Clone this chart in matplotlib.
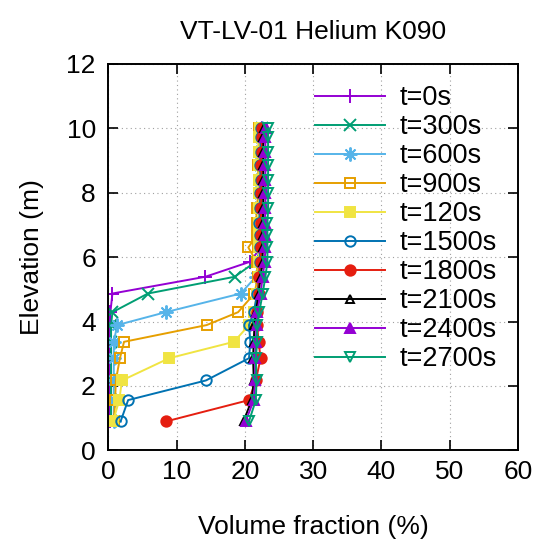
import matplotlib
matplotlib.use("Agg")
import matplotlib.pyplot as plt

# ─────────────────────────────
# Data
# ─────────────────────────────
elevation = [0.90, 1.56, 2.17, 2.86, 3.37, 3.89, 4.29, 4.87, 5.39, 5.86,
             6.30, 6.69, 7.05, 7.52, 7.98, 8.39, 8.86, 9.27, 9.72, 10.00]

t0    = [0.2, 0.2, 0.2, 0.2, 0.2, 0.2, 0.3, 0.6, 14.2, 20.8,
         22.3, 22.3, 22.2, 22.3, 22.3, 22.4, 22.3, 22.4, 22.4, 22.5]
t300  = [0.4, 0.4, 0.4, 0.4, 0.4, 0.4, 0.6, 5.8, 18.5, 21.6,
         22.4, 22.4, 22.3, 22.4, 22.4, 22.5, 22.4, 22.5, 22.5, 22.5]
t600  = [0.8, 0.8, 0.8, 0.8, 0.8, 1.3, 8.4, 19.4, 21.6, 22.2,
         22.4, 22.4, 22.3, 22.4, 22.4, 22.5, 22.4, 22.5, 22.5, 22.5]
t900  = [0.8, 1.0, 1.1, 1.7, 2.3, 14.4, 19.0, 21.4, 21.9, 21.7,
         20.5, 21.8, 21.7, 21.7, 22.0, 22.0, 21.9, 22.0, 22.0, 22.1]
t120  = [0.7, 1.6, 2.0, 8.9, 18.4, 20.6, 21.3, 21.8, 22.0, 22.0,
         22.1, 22.0, 22.0, 22.1, 22.1, 22.1, 22.1, 22.1, 22.1, 22.2]
t1500 = [1.8, 2.9, 14.3, 20.6, 20.8, 20.6, 21.3, 21.8, 22.1, 22.2,
         22.2, 22.2, 22.1, 22.2, 22.2, 22.3, 22.2, 22.3, 22.3, 22.3]
t1800 = [8.5, 20.6, 21.6, 22.3, 22.0, 21.8, 21.8, 22.0, 22.0, 22.3,
         22.4, 22.4, 22.3, 22.4, 22.4, 22.5, 22.4, 22.5, 22.5, 22.5]
t2100 = [19.8, 21.0, 21.3, 21.2, 21.3, 21.4, 21.6, 22.0, 22.3, 22.6,
         22.6, 22.6, 22.6, 22.7, 22.7, 22.7, 22.7, 22.7, 22.7, 22.8]
t2400 = [20.1, 21.3, 21.5, 21.5, 21.6, 21.7, 21.8, 22.3, 22.6, 22.9,
         23.0, 23.0, 22.9, 23.0, 23.0, 23.0, 23.0, 23.0, 23.0, 23.1]
t2700 = [20.6, 21.6, 21.7, 21.6, 21.8, 21.8, 22.1, 22.6, 23.0, 23.3,
         23.3, 23.3, 23.3, 23.4, 23.4, 23.4, 23.4, 23.4, 23.4, 23.4]

labels = ["t=0s", "t=300s", "t=600s", "t=900s", "t=120s",
          "t=1500s", "t=1800s", "t=2100s", "t=2400s", "t=2700s"]
series = [t0, t300, t600, t900, t120, t1500, t1800, t2100, t2400, t2700]

# gnuplot-like colours and point types
colors = ["#9400d3", "#009e73", "#56b4e9", "#e69f00", "#f0e442",
          "#0072b2", "#e51e10", "#000000", "#9400d3", "#009e73"]
markers = ["+", "x", (8, 2, 0), "s", "s", "o", "o", "^", "^", "v"]
filled = [True, True, True, False, True, False, True, False, True, False]
sizes = [10, 8, 10, 7, 7, 7.5, 7.5, 6, 7, 7]

# ─────────────────────────────
# Plot
# ─────────────────────────────
plt.rcParams["font.family"] = ["Liberation Sans", "DejaVu Sans"]
plt.rcParams["font.size"] = 19.5

fig = plt.figure(figsize=(5.43, 5.43), dpi=100)
ax = fig.add_axes([0.1995, 0.1707, 0.7545, 0.7115])

for y, lab, c, m, f, s in zip(series, labels, colors, markers, filled, sizes):
    ax.plot(y, elevation, color=c, lw=1.4, marker=m, ms=s, mew=1.4,
            markerfacecolor=c if f else "none", markeredgecolor=c, label=lab)

ax.set_xlim(0, 60)
ax.set_ylim(0, 12)
ax.set_xticks(range(0, 61, 10))
ax.set_yticks(range(0, 13, 2))
ax.tick_params(direction="in", length=7, width=1.2, top=True, right=True)
ax.tick_params(axis="y", pad=9, labelsize=19)
ax.tick_params(axis="x", pad=7, labelsize=19)
for sp in ax.spines.values():
    sp.set_linewidth(1.4)

ax.grid(True, color="#a0a0a0", lw=0.8, linestyle=(0, (1, 3)))

ax.set_title("VT-LV-01 Helium K090", fontsize=19, pad=18)
ax.set_xlabel("Volume fraction (%)", fontsize=19)
ax.set_ylabel("Elevation (m)", fontsize=19)
ax.xaxis.set_label_coords(0.5, -0.199)
ax.xaxis.label.set_verticalalignment("center")
ax.yaxis.set_label_coords(-0.186, 0.5)
ax.yaxis.label.set_verticalalignment("center")

ax.legend(loc="upper right", bbox_to_anchor=(0.916, 0.843),
          bbox_transform=fig.transFigure, frameon=False,
          handlelength=2.6, handletextpad=0.55, labelspacing=0.11,
          borderpad=0, borderaxespad=0)

fig.savefig("out.png", dpi=100)
